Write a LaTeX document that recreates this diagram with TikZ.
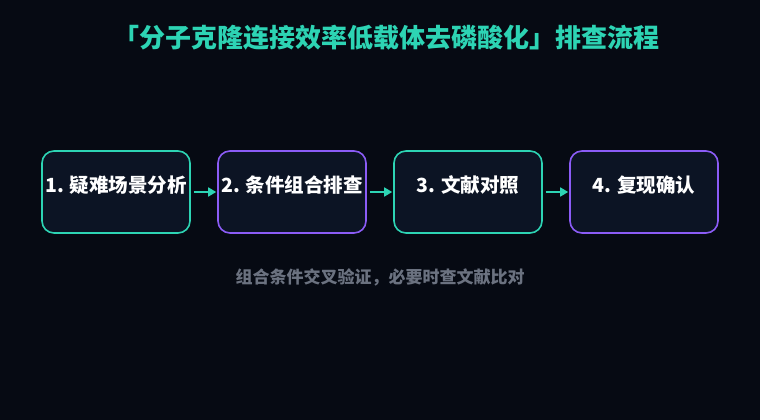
\documentclass[tikz,border=0pt]{standalone}
\usepackage{fontspec}
\setmainfont{Noto Sans CJK SC}
\usetikzlibrary{shapes,arrows,arrows.meta}
\definecolor{bgdark}{HTML}{060A13}
\definecolor{boxfill}{HTML}{0C1424}
\definecolor{tealc}{HTML}{2DD4B4}
\definecolor{violetc}{HTML}{8B5CF6}
\definecolor{notegray}{HTML}{6B7280}
\tikzstyle{title} = [text=tealc, font=\bfseries\fontsize{26}{29}\selectfont]
\tikzstyle{note} = [text=notegray, font=\bfseries\fontsize{17}{20}\selectfont]
\tikzstyle{stage} = [draw, rounded corners=12pt, line width=1.6pt, fill=boxfill, minimum width=148pt, minimum height=82pt, inner sep=0pt, text=white, font=\bfseries\fontsize{19.5}{22}\selectfont, text height=13pt, text depth=13pt]
\tikzstyle{tealstage} = [stage, draw=tealc]
\tikzstyle{violetstage} = [stage, draw=violetc]

\begin{document}
\begin{tikzpicture}[->,>={Triangle[length=8pt,width=9pt,fill=tealc]},shorten >=1pt,shorten <=3pt,node distance=176pt,x=1pt,y=-1pt]

  \fill[bgdark,-] (0,0) rectangle (760,420);
  \useasboundingbox (0,0) rectangle (760,420);

  \node[title] (head) at (386,38) {「分子克隆连接效率低载体去磷酸化」排查流程};

  \node[tealstage] (S1) at (116,192) {1. 疑难场景分析};
  \node[violetstage] (S2) [right of=S1] {2. 条件组合排查};
  \node[tealstage] (S3) [right of=S2] {3. 文献对照};
  \node[violetstage] (S4) [right of=S3] {4. 复现确认};

  \node[note] (hint) at (380,277) {组合条件交叉验证，必要时查文献比对};

  \path[draw=tealc,line width=1.6pt]
    (S1) edge [] (S2)
    (S2) edge [] (S3)
    (S3) edge [] (S4);

\end{tikzpicture}
\end{document}
